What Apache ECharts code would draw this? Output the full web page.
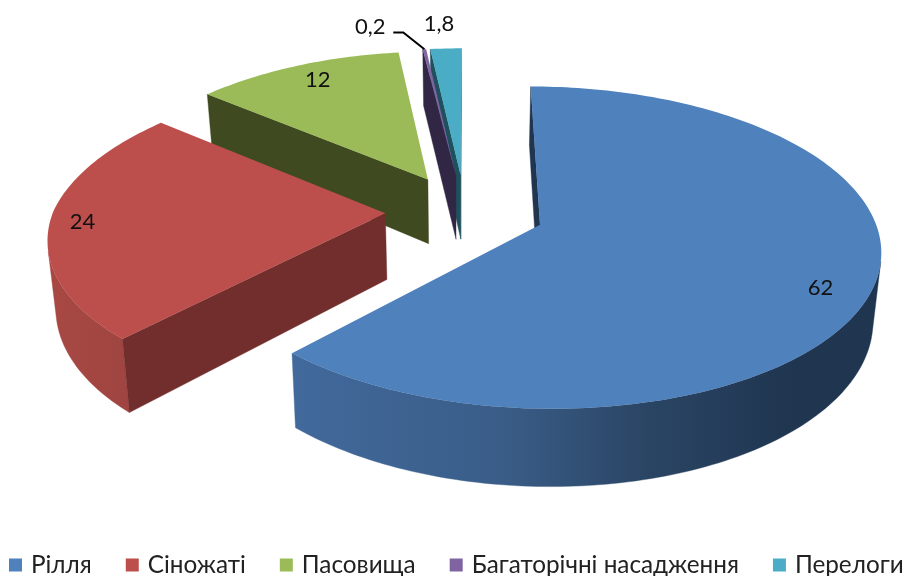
<!DOCTYPE html>
<html><head><meta charset="utf-8">
<style>html,body{margin:0;padding:0;background:#fff}#c{width:907px;height:576px}</style>
<script src="https://cdn.jsdelivr.net/npm/echarts@6/dist/echarts.min.js"></script>
</head><body><div id="c"></div>
<script>
const categories = ['Рілля', 'Сіножаті', 'Пасовища', 'Багаторічні насадження', 'Перелоги'];
const values = [62, 24, 12, 0.2, 1.8];
const valueLabels = ['62', '24', '12', '0,2', '1,8'];
const topColors = ['#4F81BD', '#BC4F4C', '#9BBB59', '#8064A2', '#4BACC6'];
const sideColors = ['#1F3550', '#722E2C', '#3F4A20', '#312745', '#1F505E'];
const wallStops = [
  [[0, '#41699B'], [0.35, '#3A5D88'], [0.6, '#2A4564'], [0.85, '#1F3550'], [1, '#1F3550']],
  [[0, '#A84843'], [1, '#9C4340']],
  [[0, '#3F4A20'], [1, '#3F4A20']],
  [[0, '#312745'], [1, '#312745']],
  [[0, '#1F505E'], [1, '#1F505E']]
];
const stackOrder = [6, 5, 2, 4, 3];        // z of each slice
const labelRadius = [0.87, 0.9, 0.85, 1.2, 1.225];
const labelNudge = [[-8, 10], [-1, 0], [3, -1], [-49, -1], [-4, 0]];
const view = { cx: 465, cy: 211, A: 332, B: 154, k: 0.14, depth: 66, shrink: 0.98, explode: 0.24, skew: 7 };

const total = values.reduce((a, b) => a + b, 0);
const starts = [];
values.reduce((acc, v, i) => { starts[i] = acc; return acc + v; }, 0);
const rad = v => v / total * Math.PI * 2;

function project(u, v, low) {
  const w = 1 + view.k * v;
  const lean = view.skew * Math.max(-u, 0) * Math.max(v, 0);
  return [
    view.cx + (view.A * u / w + lean) * (low ? view.shrink : 1),
    view.cy - view.B * v / w + (low ? view.depth / w : 0)
  ];
}

function renderSlice(i) {
  return function () {
    const a0 = rad(starts[i]), a1 = a0 + rad(values[i]), mid = (a0 + a1) / 2;
    const ox = Math.sin(mid) * view.explode, oy = Math.cos(mid) * view.explode;
    const disc = (t, r, low) => project(ox + Math.sin(t) * r, oy + Math.cos(t) * r, low);
    const steps = Math.max(4, Math.ceil((a1 - a0) / 0.02));
    const upper = [], lower = [];
    for (let s = 0; s <= steps; s++) {
      const t = a0 + (a1 - a0) * s / steps;
      upper.push(disc(t, 1, false));
      lower.push(disc(t, 1, true));
    }
    const apexT = project(ox, oy, false), apexB = project(ox, oy, true);
    const wall = (t) => [apexT, disc(t, 1, false), disc(t, 1, true), apexB];
    const area = p => p.reduce((s, q, j) => {
      const n = p[(j + 1) % p.length];
      return s + q[0] * n[1] - n[0] * q[1];
    }, 0);
    const poly = (points, fill) => ({ type: 'polygon', shape: { points }, style: { fill, stroke: fill, lineWidth: 0.4 } });
    const startWall = wall(a0), endWall = wall(a1);
    const startFront = area(startWall) < 0, endFront = area(endWall) > 0;
    const children = [];
    const xs = upper.map(p => p[0]);
    const grad = new echarts.graphic.LinearGradient(
      i === 0 ? 296 : Math.min(...xs), 0, i === 0 ? 882 : Math.max(...xs) + 0.01, 0,
      wallStops[i].map(s => ({ offset: s[0], color: s[1] })), true);
    let first = -1, last = -1;
    for (let s = 0; s < steps; s++) {
      if (area([upper[s], upper[s + 1], lower[s + 1], lower[s]]) < 0) {
        if (first < 0) first = s;
        last = s + 1;
      }
    }
    if (first >= 0) {
      children.push(poly(upper.slice(first, last + 1).concat(lower.slice(first, last + 1).reverse()), grad));
    }
    if (startFront) children.push(poly(startWall, sideColors[i]));
    if (endFront) children.push(poly(endWall, sideColors[i]));
    children.push({ type: 'polygon', shape: { points: [apexT].concat(upper) }, style: { fill: topColors[i] } });

    const lp = disc(mid, labelRadius[i], false);
    const lx = lp[0] + labelNudge[i][0], ly = lp[1] + labelNudge[i][1];
    children.push({
      type: 'text',
      style: { x: lx, y: ly, text: valueLabels[i], fill: '#111', font: '22px Lato, "Open Sans", sans-serif',
        textAlign: 'center', textVerticalAlign: 'middle', align: 'center', verticalAlign: 'middle' }
    });
    if (values[i] < 1) {
      children.push({
        type: 'polyline',
        shape: { points: [[lx + 23, ly + 6], [lx + 33, ly + 6], disc(mid, 1, false)] },
        style: { stroke: '#000', lineWidth: 2, fill: null }
      });
    }
    return { type: 'group', children };
  };
}

const chart = echarts.init(document.getElementById('c'), null, { renderer: 'canvas' });
chart.setOption({
  animation: false,
  backgroundColor: '#fff',
  legend: {
    data: categories.map(name => ({ name, icon: 'rect' })),
    left: 9, top: 553, width: 960, padding: 0, itemWidth: 13, itemHeight: 13, itemGap: 34,
    textStyle: { fontSize: 24.3, color: '#222', fontFamily: 'Lato, "Open Sans", sans-serif', padding: [0, 0, 0, 4] },
    selectedMode: false
  },
  series: categories.map((name, i) => ({
    name, type: 'custom', coordinateSystem: 'none', silent: true, z: stackOrder[i],
    itemStyle: { color: topColors[i] },
    data: [[values[i]]],
    renderItem: renderSlice(i)
  }))
});
</script></body></html>
